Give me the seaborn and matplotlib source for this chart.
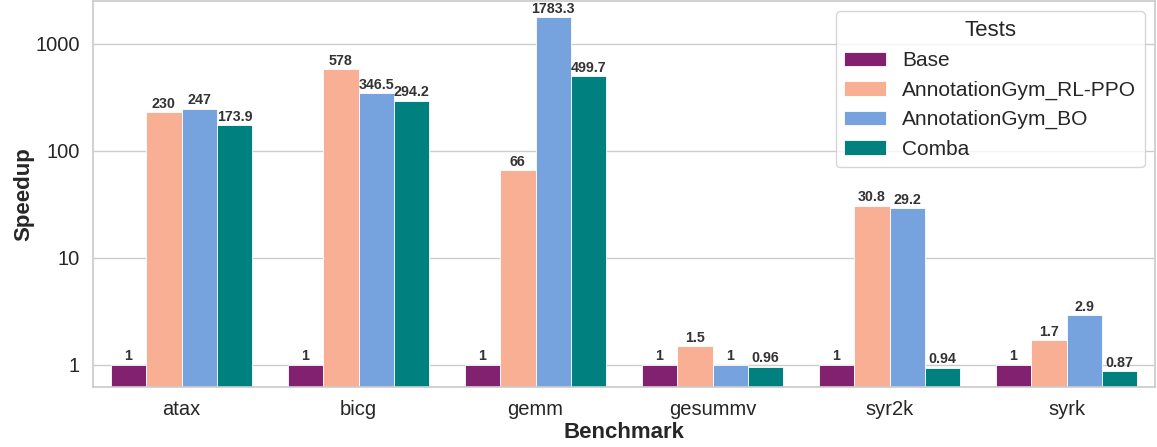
import matplotlib

matplotlib.use("Agg")
import matplotlib.pyplot as plt
import matplotlib.ticker as mticker
import pandas as pd
import seaborn as sns

benchmarks = ["atax", "bicg", "gemm", "gesummv", "syr2k", "syrk"]
tests = ["Base", "AnnotationGym_RL-PPO", "AnnotationGym_BO", "Comba"]
base = [1, 1, 1, 1, 1, 1]
rl_ppo = [230, 578, 66, 1.5, 30.8, 1.7]
bo = [247, 346.5, 1783.3, 1, 29.2, 2.9]
comba = [173.9, 294.2, 499.7, 0.96, 0.94, 0.87]
colors = ["#82216f", "#f8af94", "#76a2de", "#00807e"]

rows = []
for test, vals in zip(tests, [base, rl_ppo, bo, comba]):
    for bench, v in zip(benchmarks, vals):
        rows.append({"Benchmark": bench, "Tests": test, "Speedup": v})
df = pd.DataFrame(rows)

sns.set_theme(style="whitegrid")
plt.rcParams["font.family"] = ["Liberation Sans", "DejaVu Sans"]

fig, ax = plt.subplots(figsize=(11.57, 4.47), dpi=100)
sns.barplot(data=df, x="Benchmark", y="Speedup", hue="Tests",
            order=benchmarks, hue_order=tests, palette=colors,
            saturation=1, ax=ax, edgecolor="white", linewidth=0.6)
ax.set_yscale("log")
ax.set_ylim(0.62, 2520)
ax.yaxis.set_major_locator(mticker.FixedLocator([1, 10, 100, 1000]))
ax.yaxis.set_major_formatter(mticker.FuncFormatter(lambda v, _: f"{v:g}"))
ax.yaxis.set_minor_locator(mticker.NullLocator())

for cont in ax.containers:
    ax.bar_label(cont, labels=[f"{b.get_height():g}" for b in cont],
                 fontsize=10.3, fontweight="bold", color="#333333", padding=1)

ax.set_xlabel("Benchmark", fontsize=16, fontweight="bold", labelpad=2)
ax.set_ylabel("Speedup", fontsize=16, fontweight="bold", labelpad=1)
ax.tick_params(axis="both", labelsize=14.5)
leg = ax.legend(title="Tests", loc="upper right", fontsize=15,
                title_fontsize=16)

fig.subplots_adjust(left=0.0804, right=0.9983, top=0.9978, bottom=0.1342)
fig.savefig("out.png", dpi=100)
plt.close(fig)
